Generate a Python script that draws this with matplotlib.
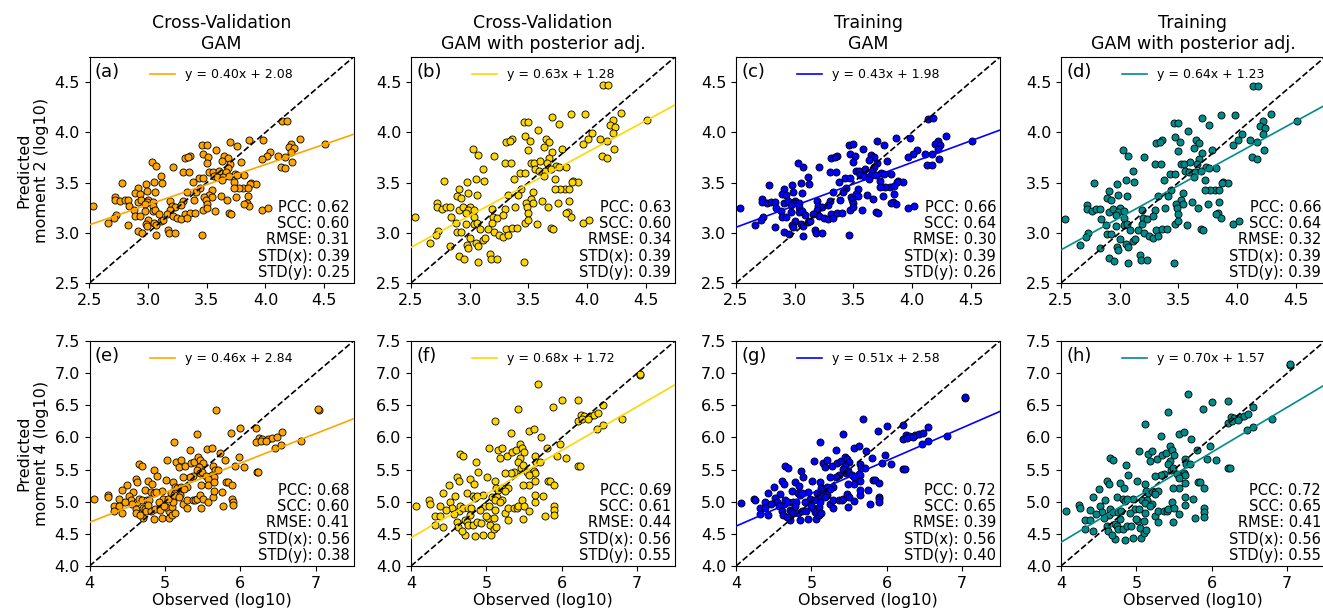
import numpy as np
import matplotlib
matplotlib.use("Agg")
import matplotlib.pyplot as plt

# --- 1. DATA ---
# moment 2: observed values (shared by the four panels of the top row)
obs_m2 = [4.14, 4.18, 3.70, 3.86, 3.98, 4.29, 4.51, 3.46, 3.50, 3.76,
          4.22, 4.20, 4.24, 4.22, 3.58, 4.04, 3.47, 4.11, 4.01, 3.65,
          3.31, 3.36, 3.34, 3.51, 3.97, 4.17, 3.03, 3.68, 3.07, 3.50,
          3.63, 3.70, 3.79, 4.13, 4.17, 4.23, 3.21, 3.68, 3.30, 3.35,
          3.52, 3.55, 3.60, 3.66, 3.11, 3.56, 3.59, 3.74, 3.82, 3.76,
          3.43, 3.47, 3.05, 3.38, 3.64, 3.69, 3.73, 2.78, 2.98, 3.12,
          3.63, 3.88, 3.92, 3.87, 3.81, 3.85, 3.77, 3.73, 2.91, 2.99,
          3.06, 2.89, 2.93, 3.33, 3.44, 3.41, 3.54, 3.52, 3.62, 3.48,
          3.54, 3.85, 2.72, 2.72, 2.76, 2.80, 2.83, 2.84, 2.91, 2.94,
          3.00, 2.99, 2.97, 3.04, 3.04, 3.19, 3.30, 3.39, 3.49, 3.50,
          3.67, 3.75, 3.84, 3.86, 3.82, 2.53, 3.20, 2.88, 2.97, 3.04,
          2.89, 2.93, 3.06, 3.23, 3.19, 3.16, 3.21, 3.31, 3.36, 3.40,
          3.47, 3.50, 3.57, 3.69, 3.71, 3.97, 4.02, 2.73, 2.71, 2.66,
          2.83, 3.00, 2.98, 3.05, 3.11, 3.13, 3.25, 3.28, 3.33, 3.07,
          2.91, 2.95, 2.99, 3.07, 3.17, 3.18, 3.23, 3.46, 3.09, 3.28]

cv_m2 = [4.11, 4.11, 3.90, 3.92, 3.92, 3.93, 3.88, 3.87, 3.87, 3.86,
         3.88, 3.85, 3.84, 3.80, 3.82, 3.80, 3.78, 3.76, 3.76, 3.76,
         3.74, 3.76, 3.75, 3.75, 3.73, 3.75, 3.70, 3.74, 3.66, 3.69,
         3.71, 3.68, 3.70, 3.65, 3.64, 3.70, 3.65, 3.64, 3.61, 3.61,
         3.61, 3.61, 3.62, 3.61, 3.57, 3.57, 3.56, 3.59, 3.58, 3.58,
         3.55, 3.55, 3.51, 3.51, 3.56, 3.57, 3.51, 3.50, 3.49, 3.50,
         3.53, 3.50, 3.49, 3.49, 3.45, 3.45, 3.45, 3.45, 3.45, 3.42,
         3.41, 3.40, 3.39, 3.41, 3.45, 3.41, 3.43, 3.38, 3.37, 3.36,
         3.36, 3.37, 3.36, 3.33, 3.32, 3.33, 3.33, 3.27, 3.31, 3.33,
         3.33, 3.31, 3.29, 3.31, 3.27, 3.32, 3.32, 3.33, 3.33, 3.29,
         3.33, 3.36, 3.30, 3.27, 3.29, 3.27, 3.27, 3.23, 3.22, 3.22,
         3.17, 3.17, 3.23, 3.26, 3.23, 3.19, 3.17, 3.19, 3.20, 3.20,
         3.23, 3.25, 3.22, 3.20, 3.19, 3.23, 3.25, 3.18, 3.15, 3.10,
         3.08, 3.13, 3.09, 3.10, 3.12, 3.13, 3.15, 3.14, 3.15, 3.08,
         3.02, 3.00, 3.07, 2.98, 3.03, 3.00, 3.00, 2.98, 3.19, 3.28]

cv_adj_m2 = [4.47, 4.47, 4.15, 4.18, 4.18, 4.19, 4.12, 4.10, 4.10, 4.08,
             4.12, 4.07, 4.05, 3.99, 4.02, 3.99, 3.96, 3.93, 3.93, 3.93,
             3.90, 3.93, 3.91, 3.91, 3.88, 3.91, 3.83, 3.90, 3.77, 3.82,
             3.85, 3.80, 3.83, 3.76, 3.74, 3.83, 3.76, 3.74, 3.69, 3.69,
             3.69, 3.69, 3.71, 3.69, 3.63, 3.63, 3.62, 3.66, 3.65, 3.65,
             3.60, 3.60, 3.54, 3.54, 3.62, 3.63, 3.54, 3.52, 3.51, 3.52,
             3.57, 3.52, 3.51, 3.51, 3.44, 3.44, 3.44, 3.44, 3.44, 3.40,
             3.38, 3.37, 3.35, 3.38, 3.44, 3.38, 3.41, 3.34, 3.32, 3.30,
             3.30, 3.32, 3.30, 3.26, 3.24, 3.26, 3.26, 3.16, 3.23, 3.26,
             3.26, 3.23, 3.20, 3.23, 3.16, 3.24, 3.24, 3.26, 3.26, 3.20,
             3.26, 3.30, 3.21, 3.16, 3.20, 3.16, 3.16, 3.10, 3.09, 3.09,
             3.01, 3.01, 3.10, 3.15, 3.10, 3.04, 3.01, 3.04, 3.05, 3.05,
             3.10, 3.13, 3.09, 3.05, 3.04, 3.10, 3.13, 3.02, 2.98, 2.90,
             2.87, 2.95, 2.88, 2.90, 2.93, 2.95, 2.98, 2.96, 2.98, 2.87,
             2.77, 2.74, 2.85, 2.71, 2.79, 2.74, 2.74, 2.71, 3.04, 3.18]

tr_m2 = [4.13, 4.14, 3.91, 3.94, 3.94, 3.96, 3.91, 3.87, 3.88, 3.87,
         3.91, 3.88, 3.87, 3.83, 3.83, 3.82, 3.78, 3.78, 3.78, 3.77,
         3.74, 3.76, 3.75, 3.76, 3.75, 3.78, 3.69, 3.75, 3.65, 3.70,
         3.72, 3.69, 3.71, 3.67, 3.67, 3.73, 3.65, 3.65, 3.61, 3.61,
         3.62, 3.62, 3.63, 3.62, 3.56, 3.58, 3.57, 3.60, 3.59, 3.59,
         3.55, 3.55, 3.50, 3.51, 3.57, 3.58, 3.52, 3.48, 3.48, 3.49,
         3.54, 3.52, 3.51, 3.51, 3.46, 3.47, 3.46, 3.46, 3.44, 3.41,
         3.40, 3.39, 3.38, 3.41, 3.45, 3.41, 3.44, 3.39, 3.38, 3.36,
         3.37, 3.39, 3.34, 3.31, 3.30, 3.31, 3.31, 3.25, 3.30, 3.32,
         3.32, 3.30, 3.28, 3.30, 3.26, 3.32, 3.32, 3.33, 3.33, 3.30,
         3.34, 3.37, 3.31, 3.29, 3.30, 3.25, 3.27, 3.22, 3.21, 3.21,
         3.16, 3.16, 3.22, 3.26, 3.23, 3.19, 3.17, 3.19, 3.20, 3.20,
         3.23, 3.26, 3.23, 3.21, 3.20, 3.25, 3.27, 3.16, 3.13, 3.08,
         3.06, 3.12, 3.08, 3.09, 3.11, 3.12, 3.15, 3.14, 3.15, 3.07,
         3.01, 2.99, 3.06, 2.97, 3.03, 3.00, 3.00, 2.98, 3.18, 3.28]

tr_adj_m2 = [4.46, 4.46, 4.14, 4.17, 4.17, 4.18, 4.11, 4.09, 4.09, 4.07,
             4.11, 4.06, 4.04, 3.98, 4.01, 3.98, 3.95, 3.92, 3.92, 3.92,
             3.89, 3.92, 3.90, 3.90, 3.87, 3.90, 3.82, 3.89, 3.76, 3.81,
             3.84, 3.79, 3.82, 3.75, 3.73, 3.82, 3.75, 3.73, 3.68, 3.68,
             3.68, 3.68, 3.70, 3.68, 3.62, 3.62, 3.61, 3.65, 3.64, 3.64,
             3.59, 3.59, 3.53, 3.53, 3.61, 3.62, 3.53, 3.50, 3.49, 3.51,
             3.56, 3.51, 3.50, 3.50, 3.43, 3.43, 3.43, 3.43, 3.42, 3.38,
             3.37, 3.35, 3.33, 3.37, 3.43, 3.37, 3.40, 3.33, 3.31, 3.29,
             3.29, 3.31, 3.28, 3.24, 3.22, 3.24, 3.24, 3.14, 3.21, 3.24,
             3.25, 3.21, 3.18, 3.22, 3.15, 3.23, 3.23, 3.25, 3.25, 3.19,
             3.25, 3.29, 3.20, 3.15, 3.19, 3.14, 3.15, 3.08, 3.07, 3.08,
             2.99, 2.99, 3.09, 3.14, 3.09, 3.03, 3.00, 3.03, 3.04, 3.04,
             3.09, 3.12, 3.08, 3.04, 3.03, 3.09, 3.12, 3.00, 2.96, 2.88,
             2.85, 2.94, 2.86, 2.89, 2.92, 2.94, 2.97, 2.95, 2.97, 2.86,
             2.75, 2.72, 2.83, 2.70, 2.78, 2.73, 2.73, 2.70, 3.03, 3.17]

# moment 4: observed values (shared by the four panels of the bottom row)
obs_m4 = [5.68, 7.04, 7.03, 6.00, 6.21, 5.88, 5.42, 6.55, 6.80, 6.25,
          6.29, 6.37, 6.42, 6.48, 6.21, 6.27, 6.34, 6.46, 6.54, 5.12,
          5.33, 5.56, 5.63, 5.73, 5.80, 5.98, 5.93, 6.05, 6.22, 6.24,
          5.03, 5.15, 5.21, 5.18, 5.27, 5.34, 5.39, 5.44, 5.47, 5.50,
          5.45, 5.42, 5.46, 5.49, 5.37, 5.33, 5.24, 5.64, 5.66, 5.71,
          5.63, 5.65, 5.54, 5.57, 4.65, 4.69, 4.86, 4.89, 4.61, 4.63,
          4.50, 4.78, 4.83, 5.01, 5.11, 5.13, 5.16, 5.21, 5.24, 5.29,
          5.08, 5.14, 5.20, 5.25, 4.96, 4.98, 4.74, 4.82, 4.85, 4.88,
          4.58, 4.52, 4.43, 4.55, 4.63, 4.65, 4.69, 4.76, 4.79, 4.24,
          4.25, 4.06, 4.39, 4.47, 4.32, 4.39, 4.32, 4.43, 4.57, 4.61,
          4.62, 4.71, 4.74, 4.71, 4.67, 4.75, 4.82, 4.78, 4.87, 4.92,
          4.93, 4.96, 5.06, 5.05, 5.02, 5.10, 5.11, 5.04, 5.12, 5.18,
          5.24, 5.29, 5.37, 5.40, 5.42, 5.47, 5.50, 5.57, 5.64, 5.65,
          5.75, 5.81, 5.84, 5.89, 5.89, 5.90, 5.90, 5.77, 5.48, 5.29,
          4.99, 5.10, 5.13, 4.85, 5.57, 5.65, 5.48]

cv_m4 = [6.42, 6.43, 6.44, 6.14, 6.15, 6.07, 6.05, 6.09, 5.95, 5.99,
         5.98, 5.98, 5.99, 6.01, 5.93, 5.94, 5.95, 5.84, 5.88, 5.93,
         5.80, 5.82, 5.84, 5.76, 5.65, 5.69, 5.56, 5.54, 5.46, 5.46,
         5.65, 5.62, 5.65, 5.54, 5.56, 5.60, 5.62, 5.69, 5.65, 5.60,
         5.54, 5.50, 5.44, 5.47, 5.40, 5.39, 5.39, 5.56, 5.50, 5.50,
         5.41, 5.39, 5.40, 5.36, 5.58, 5.56, 5.50, 5.40, 5.35, 5.31,
         5.26, 5.32, 5.27, 5.34, 5.31, 5.23, 5.21, 5.23, 5.22, 5.23,
         5.14, 5.14, 5.10, 5.20, 5.16, 5.05, 5.18, 5.15, 5.13, 5.15,
         5.15, 5.09, 5.18, 5.02, 4.99, 5.05, 5.02, 5.02, 5.02, 5.10,
         5.07, 5.04, 5.04, 5.00, 4.94, 4.94, 4.85, 4.83, 4.96, 4.88,
         4.83, 4.90, 4.88, 4.74, 4.79, 4.85, 4.85, 4.95, 4.88, 5.00,
         4.87, 4.74, 4.74, 4.85, 4.92, 4.92, 5.00, 5.04, 5.11, 5.08,
         4.97, 5.02, 5.02, 5.02, 5.04, 5.11, 5.05, 4.99, 5.08, 5.16,
         5.15, 5.31, 5.31, 5.26, 5.05, 5.00, 4.95, 4.94, 4.91, 4.90,
         4.94, 4.80, 4.83, 4.73, 5.26, 5.31, 5.26]

cv_adj_m4 = [6.83, 6.97, 6.99, 6.58, 6.59, 6.47, 6.44, 6.50, 6.29, 6.35,
             6.34, 6.34, 6.35, 6.38, 6.26, 6.28, 6.29, 6.13, 6.19, 6.26,
             6.07, 6.10, 6.13, 6.01, 5.84, 5.90, 5.71, 5.68, 5.56, 5.56,
             5.84, 5.80, 5.84, 5.68, 5.71, 5.77, 5.80, 5.90, 5.84, 5.77,
             5.68, 5.62, 5.53, 5.57, 5.47, 5.45, 5.45, 5.71, 5.62, 5.62,
             5.48, 5.45, 5.47, 5.41, 5.74, 5.71, 5.62, 5.47, 5.39, 5.33,
             5.26, 5.35, 5.27, 5.38, 5.33, 5.21, 5.18, 5.21, 5.20, 5.21,
             5.08, 5.08, 5.02, 5.17, 5.10, 4.94, 5.14, 5.09, 5.06, 5.09,
             5.09, 5.00, 5.14, 4.90, 4.85, 4.94, 4.90, 4.90, 4.90, 5.02,
             4.97, 4.93, 4.93, 4.87, 4.78, 4.78, 4.64, 4.61, 4.81, 4.69,
             4.61, 4.72, 4.69, 4.48, 4.55, 4.64, 4.64, 4.79, 4.69, 4.87,
             4.67, 4.48, 4.48, 4.64, 4.75, 4.75, 4.87, 4.93, 5.03, 4.99,
             4.82, 4.90, 4.90, 4.90, 4.93, 5.03, 4.94, 4.85, 4.99, 5.11,
             5.09, 5.33, 5.33, 5.26, 4.94, 4.87, 4.79, 4.78, 4.73, 4.72,
             4.78, 4.57, 4.61, 4.46, 5.26, 5.33, 5.26]

tr_m4 = [6.29, 6.62, 6.63, 6.18, 6.20, 6.10, 6.06, 6.16, 6.03, 6.04,
         6.03, 6.04, 6.05, 6.07, 5.98, 5.99, 6.01, 5.90, 5.95, 5.93,
         5.81, 5.84, 5.86, 5.79, 5.68, 5.73, 5.60, 5.58, 5.51, 5.51,
         5.64, 5.61, 5.65, 5.54, 5.56, 5.61, 5.63, 5.70, 5.66, 5.62,
         5.55, 5.51, 5.45, 5.48, 5.41, 5.39, 5.39, 5.58, 5.52, 5.52,
         5.43, 5.41, 5.42, 5.38, 5.55, 5.53, 5.48, 5.38, 5.32, 5.28,
         5.23, 5.30, 5.25, 5.33, 5.30, 5.22, 5.20, 5.23, 5.22, 5.23,
         5.13, 5.14, 5.10, 5.20, 5.15, 5.04, 5.16, 5.13, 5.11, 5.13,
         5.12, 5.06, 5.14, 4.99, 4.96, 5.02, 4.99, 5.00, 5.00, 5.05,
         5.02, 4.98, 5.00, 4.96, 4.90, 4.90, 4.81, 4.79, 4.93, 4.85,
         4.80, 4.87, 4.86, 4.72, 4.76, 4.83, 4.83, 4.93, 4.86, 4.99,
         4.86, 4.73, 4.73, 4.84, 4.91, 4.92, 4.99, 5.03, 5.11, 5.08,
         4.97, 5.02, 5.03, 5.03, 5.05, 5.12, 5.07, 5.01, 5.10, 5.18,
         5.18, 5.34, 5.34, 5.29, 5.08, 5.04, 4.99, 4.97, 4.92, 4.90,
         4.93, 4.79, 4.82, 4.71, 5.27, 5.33, 5.27]

tr_adj_m4 = [6.68, 7.12, 7.14, 6.55, 6.56, 6.44, 6.40, 6.48, 6.28, 6.32,
             6.31, 6.32, 6.33, 6.36, 6.23, 6.25, 6.27, 6.11, 6.17, 6.21,
             6.03, 6.06, 6.09, 5.97, 5.80, 5.87, 5.67, 5.65, 5.53, 5.53,
             5.79, 5.75, 5.79, 5.63, 5.67, 5.73, 5.76, 5.86, 5.80, 5.73,
             5.64, 5.58, 5.49, 5.53, 5.43, 5.41, 5.40, 5.67, 5.58, 5.58,
             5.44, 5.41, 5.43, 5.37, 5.68, 5.65, 5.57, 5.42, 5.33, 5.27,
             5.20, 5.29, 5.22, 5.33, 5.28, 5.16, 5.13, 5.16, 5.15, 5.16,
             5.03, 5.03, 4.97, 5.12, 5.05, 4.89, 5.08, 5.04, 5.01, 5.04,
             5.03, 4.94, 5.08, 4.84, 4.79, 4.88, 4.84, 4.84, 4.85, 4.95,
             4.90, 4.86, 4.87, 4.81, 4.72, 4.72, 4.58, 4.55, 4.75, 4.63,
             4.55, 4.66, 4.63, 4.42, 4.49, 4.58, 4.58, 4.73, 4.63, 4.82,
             4.62, 4.43, 4.43, 4.59, 4.70, 4.70, 4.82, 4.88, 4.98, 4.94,
             4.78, 4.86, 4.86, 4.86, 4.89, 4.99, 4.90, 4.81, 4.95, 5.07,
             5.05, 5.30, 5.30, 5.22, 4.91, 4.84, 4.76, 4.74, 4.69, 4.68,
             4.73, 4.52, 4.56, 4.41, 5.22, 5.29, 5.22]

# fitted lines and statistics printed in each panel
slope_m2 = [0.40, 0.63, 0.43, 0.64]
icept_m2 = [2.08, 1.28, 1.98, 1.23]
pcc_m2 = [0.62, 0.63, 0.66, 0.66]
scc_m2 = [0.60, 0.60, 0.64, 0.64]
rmse_m2 = [0.31, 0.34, 0.30, 0.32]
stdx_m2 = [0.39, 0.39, 0.39, 0.39]
stdy_m2 = [0.25, 0.39, 0.26, 0.39]

slope_m4 = [0.46, 0.68, 0.51, 0.70]
icept_m4 = [2.84, 1.72, 2.58, 1.57]
pcc_m4 = [0.68, 0.69, 0.72, 0.72]
scc_m4 = [0.60, 0.61, 0.65, 0.65]
rmse_m4 = [0.41, 0.44, 0.39, 0.41]
stdx_m4 = [0.56, 0.56, 0.56, 0.56]
stdy_m4 = [0.38, 0.55, 0.40, 0.55]

titles = ["Cross-Validation\nGAM", "Cross-Validation\nGAM with posterior adj.",
          "Training\nGAM", "Training\nGAM with posterior adj."]
colors = ["orange", "gold", "blue", "darkcyan"]
letters = ["abcd", "efgh"]

# --- 2. LAYOUT (pixel boxes of the reference, 1323 x 613) ---
W, H = 1323, 613
col_left = [89.5, 411, 736, 1061]
ax_w = 264
row_top = [57, 341]
ax_h = [226, 225]

rows = [
    dict(obs=obs_m2, preds=[cv_m2, cv_adj_m2, tr_m2, tr_adj_m2],
         slope=slope_m2, icept=icept_m2, pcc=pcc_m2, scc=scc_m2, rmse=rmse_m2,
         stdx=stdx_m2, stdy=stdy_m2, lim=(2.5, 4.75),
         xticks=[2.5, 3.0, 3.5, 4.0, 4.5], yticks=[2.5, 3.0, 3.5, 4.0, 4.5],
         ylabel="Predicted\nmoment 2 (log10)"),
    dict(obs=obs_m4, preds=[cv_m4, cv_adj_m4, tr_m4, tr_adj_m4],
         slope=slope_m4, icept=icept_m4, pcc=pcc_m4, scc=scc_m4, rmse=rmse_m4,
         stdx=stdx_m4, stdy=stdy_m4, lim=(4.0, 7.5),
         xticks=[4, 5, 6, 7], yticks=[4.0, 4.5, 5.0, 5.5, 6.0, 6.5, 7.0, 7.5],
         ylabel="Predicted\nmoment 4 (log10)"),
]

fig = plt.figure(figsize=(W / 100, H / 100), dpi=100)

for r, row in enumerate(rows):
    for c in range(4):
        box = [col_left[c] / W, 1 - (row_top[r] + ax_h[r]) / H, ax_w / W, ax_h[r] / H]
        ax = fig.add_axes(box)
        lo, hi = row["lim"]
        x = np.array(row["obs"])
        y = np.array(row["preds"][c])

        ax.scatter(x, y, s=26, c=colors[c], edgecolors="black", linewidths=0.6, zorder=2)
        ax.plot([lo, hi], [lo, hi], "k--", lw=1.2, zorder=3)
        xx = np.array([lo, hi])
        lbl = f"y = {row['slope'][c]:.2f}x + {row['icept'][c]:.2f}"
        ax.plot(xx, row["slope"][c] * xx + row["icept"][c], color=colors[c], lw=1.2,
                label=lbl, zorder=3)

        ax.set_xlim(lo, hi)
        ax.set_ylim(lo, hi)
        ax.set_xticks(row["xticks"])
        ax.set_yticks(row["yticks"])
        ax.tick_params(labelsize=11.5)

        ax.legend(loc="upper center", frameon=False, fontsize=9, bbox_to_anchor=(0.5, 1.0))
        ax.text(0.02, 0.975, f"({letters[r][c]})", transform=ax.transAxes,
                ha="left", va="top", fontsize=13)
        stats = (f"PCC: {row['pcc'][c]:.2f}\nSCC: {row['scc'][c]:.2f}\n"
                 f"RMSE: {row['rmse'][c]:.2f}\nSTD(x): {row['stdx'][c]:.2f}\n"
                 f"STD(y): {row['stdy'][c]:.2f}")
        ax.text(0.985, 0.015, stats, transform=ax.transAxes, ha="right", va="bottom",
                multialignment="right", fontsize=10.5, linespacing=1.1)

        if r == 0:
            ax.set_title(titles[c], fontsize=12.5)
        if r == 1:
            ax.set_xlabel("Observed (log10)", fontsize=11.5, labelpad=2)
        if c == 0:
            ax.set_ylabel(row["ylabel"], fontsize=11.5)

fig.savefig("out.png", dpi=100)
